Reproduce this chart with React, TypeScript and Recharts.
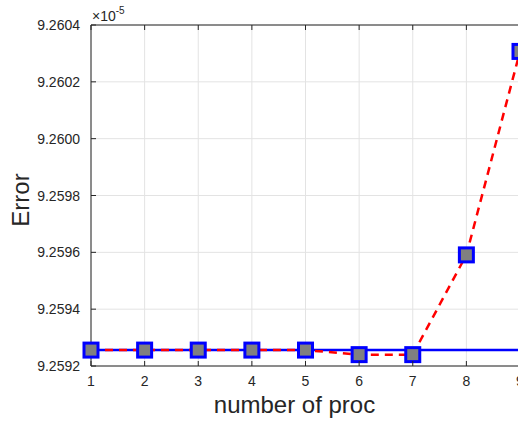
import { LineChart, Line, XAxis, YAxis, CartesianGrid, Label } from 'recharts'

// number of processes vs error (values in units of 1e-5)
const procCounts = [1, 2, 3, 4, 5, 6, 7, 8, 9]
const serialError = [9.259256, 9.259256, 9.259256, 9.259256, 9.259256, 9.259256, 9.259256, 9.259256, 9.259256]
const parallelError = [9.259256, 9.259256, 9.259256, 9.259256, 9.259256, 9.25924, 9.25924, 9.259591, 9.260307]

const xTicks = [1, 2, 3, 4, 5, 6, 7, 8, 9]
const yTicks = [9.2592, 9.2594, 9.2596, 9.2598, 9.26, 9.2602, 9.2604]

const data = procCounts.map((n, i) => ({
  n,
  serial: serialError[i],
  parallel: parallelError[i],
}))

const FONT = '"Liberation Sans", Arial, Helvetica, sans-serif'
const AXIS = '#262626'
const GRID = '#e3e3e3'
const TICK_LEN = 5

function renderYTick(props: any) {
  const { x, y, payload } = props
  const axisX = x + 11
  return (
    <g>
      <line x1={axisX} x2={axisX + TICK_LEN} y1={y} y2={y} stroke={AXIS} strokeWidth={1} />
      <text x={x} y={y} textAnchor="end" dominantBaseline="central" fill={AXIS} fontSize={14} fontFamily={FONT}>
        {Number(payload.value).toFixed(4)}
      </text>
    </g>
  )
}

function renderXTick(props: any) {
  const { x, y, payload } = props
  const axisY = y - 15
  return (
    <g>
      <line x1={x} x2={x} y1={axisY} y2={axisY - TICK_LEN} stroke={AXIS} strokeWidth={1} />
      <text x={x} y={y} textAnchor="middle" dominantBaseline="central" fill={AXIS} fontSize={14} fontFamily={FONT}>
        {payload.value}
      </text>
    </g>
  )
}

function renderTopTick(props: any) {
  const { x, y } = props
  return <line x1={x} x2={x} y1={y} y2={y + TICK_LEN} stroke={AXIS} strokeWidth={1} />
}

function renderSquare(props: any) {
  const { cx, cy, index } = props
  if (cx == null || cy == null) return <g key={`sq-${index}`} />
  return (
    <rect
      key={`sq-${index}`}
      x={cx - 7}
      y={cy - 7}
      width={14}
      height={14}
      fill="#808080"
      stroke="#0000ff"
      strokeWidth={3}
    />
  )
}

export default function App() {
  return (
    <div style={{ position: 'absolute', left: 0, top: 0, width: 518, height: 421, overflow: 'hidden' }}>
      <LineChart
        width={570}
        height={421}
        data={data}
        margin={{ top: 24, right: 50, bottom: 0, left: 0 }}
      >
        <CartesianGrid stroke={GRID} strokeWidth={1} />
        <XAxis
          dataKey="n"
          type="number"
          domain={[1, 9]}
          ticks={xTicks}
          height={55}
          tickSize={0}
          tickMargin={15}
          tickLine={false}
          tick={renderXTick}
          axisLine={{ stroke: AXIS, strokeWidth: 1 }}
          interval={0}
        >
          <Label
            content={(p: any) => {
              const vb = p.viewBox
              return (
                <text
                  x={vb.x + vb.width / 2 - 11}
                  y={vb.y + 47}
                  textAnchor="middle"
                  fill={AXIS}
                  fontSize={24}
                  fontFamily={FONT}
                >
                  number of proc
                </text>
              )
            }}
          />
        </XAxis>
        <XAxis
          xAxisId="top"
          orientation="top"
          dataKey="n"
          type="number"
          domain={[1, 9]}
          ticks={xTicks}
          height={1}
          tickSize={0}
          tickMargin={0}
          tickLine={false}
          tick={renderTopTick}
          axisLine={{ stroke: AXIS, strokeWidth: 1 }}
          interval={0}
        >
          <Label
            content={(p: any) => {
              const vb = p.viewBox
              return (
                <text x={vb.x + 1} y={vb.y + vb.height - 4} fill={AXIS} fontSize={14} fontFamily={FONT}>
                  ×10
                  <tspan dy={-7} fontSize={10}>-5</tspan>
                </text>
              )
            }}
          />
        </XAxis>
        <YAxis
          type="number"
          domain={[9.2592, 9.2604]}
          ticks={yTicks}
          width={91}
          tickSize={0}
          tickMargin={11}
          tickLine={false}
          tick={renderYTick}
          axisLine={{ stroke: AXIS, strokeWidth: 1 }}
          interval={0}
        >
          <Label
            content={(p: any) => {
              const vb = p.viewBox
              const cx = vb.x + 29
              const cy = vb.y + vb.height / 2 + 4.5
              return (
                <text
                  x={cx}
                  y={cy}
                  transform={`rotate(-90, ${cx}, ${cy})`}
                  textAnchor="middle"
                  fill={AXIS}
                  fontSize={24}
                  fontFamily={FONT}
                >
                  Error
                </text>
              )
            }}
          />
        </YAxis>
        <Line
          dataKey="serial"
          stroke="#0000ff"
          strokeWidth={2.5}
          dot={false}
          activeDot={false}
          isAnimationActive={false}
        />
        <Line
          dataKey="parallel"
          stroke="#ff0000"
          strokeWidth={2.5}
          strokeDasharray="8 6"
          dot={renderSquare}
          activeDot={false}
          isAnimationActive={false}
        />
      </LineChart>
    </div>
  )
}
